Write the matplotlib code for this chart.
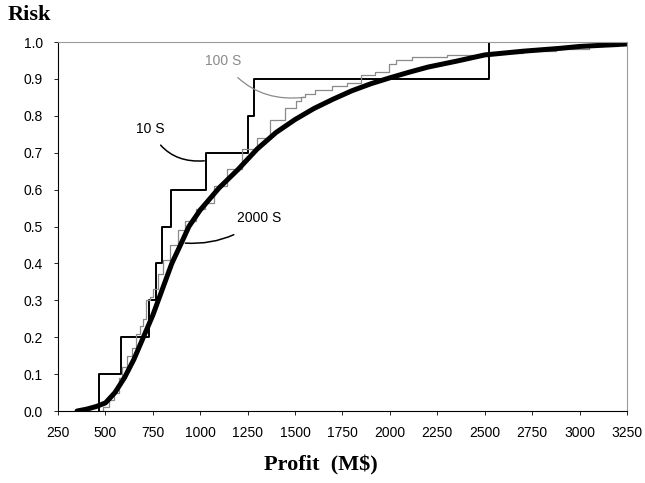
""" Risk curves for 10, 100 and 2000 simulations
"""

import numpy as np
import matplotlib.pyplot as plt

# 10 simulations: sorted profits, each step adds 0.1
x10 = [468, 581, 731, 766, 800, 845, 1028, 1252, 1285, 2522]
p10 = [0.1, 0.2, 0.3, 0.4, 0.5, 0.6, 0.7, 0.8, 0.9, 1.0]

# 100 simulations: step breakpoints
x100 = [470, 505, 535, 560, 578, 600, 625, 650, 672, 690, 705, 725, 745,
        760, 790, 820, 860, 900, 940, 1010, 1044, 1100, 1180, 1264, 1330,
        1405, 1493, 1520, 1546, 1563, 1651, 1739, 1810, 1880, 1968, 2021,
        2039, 2197, 2400, 2600, 2800, 2950, 3150, 3260]
p100 = [0.0, 0.01, 0.03, 0.05, 0.09, 0.12, 0.15, 0.17, 0.21, 0.23, 0.25,
        0.30, 0.31, 0.33, 0.37, 0.41, 0.45, 0.49, 0.515, 0.548, 0.565, 0.61,
        0.655, 0.71, 0.74, 0.79, 0.82, 0.84, 0.85, 0.86, 0.87, 0.88, 0.89,
        0.91, 0.92, 0.94, 0.95, 0.96, 0.965, 0.97, 0.975, 0.98, 0.99, 1.0]

# 2000 simulations: nearly smooth curve
x2000 = [350, 400, 450, 500, 550, 600, 650, 700, 750, 800, 850, 900, 940,
         1000, 1100, 1200, 1300, 1400, 1500, 1600, 1700, 1800, 1900, 2000,
         2100, 2200, 2350, 2500, 2700, 2900, 3000, 3260]
p2000 = [0.0, 0.005, 0.012, 0.022, 0.05, 0.09, 0.14, 0.20, 0.26, 0.33,
         0.40, 0.455, 0.50, 0.545, 0.605, 0.655, 0.71, 0.755, 0.79, 0.82,
         0.845, 0.868, 0.887, 0.903, 0.918, 0.932, 0.948, 0.965, 0.975,
         0.983, 0.988, 0.995]

xticks = np.arange(250, 3251, 250)
yticks = np.arange(0, 1.01, 0.1)

plt.rcParams['font.family'] = ['Liberation Sans', 'DejaVu Sans']
fig = plt.figure(figsize=(6.45, 4.83), dpi=100)
ax = fig.add_axes([0.09, 0.149, 0.882, 0.764])

ax.step([x10[0]] + x10, [0.0] + p10, where='post', color='black', lw=1.4)
ax.step(x100, p100, where='mid', color='#8a8a8a', lw=0.9)
ax.plot(x2000, p2000, color='black', lw=3.6, solid_capstyle='round')

ax.set_xlim(250, 3250)
ax.set_ylim(0, 1.0)
ax.set_xticks(xticks)
ax.set_yticks(yticks)
ax.set_yticklabels(['%.1f' % v for v in yticks])
ax.tick_params(length=3, width=0.6, pad=8, labelsize=10)
for side in ['top', 'right']:
    ax.spines[side].set_color('#9a9a9a')
for side in ['left', 'bottom']:
    ax.spines[side].set_linewidth(0.8)

ax.annotate('10 S', xy=(1021, 0.678), xytext=(736, 0.765),
            fontsize=10, ha='center', va='center',
            arrowprops=dict(arrowstyle='-', color='black', lw=1.1,
                            shrinkA=6, shrinkB=0,
                            connectionstyle='arc3,rad=0.35'))
ax.annotate('100 S', xy=(1546, 0.85), xytext=(1122, 0.949),
            fontsize=10, ha='center', va='center', color='#8a8a8a',
            arrowprops=dict(arrowstyle='-', color='#8a8a8a', lw=0.9,
                            shrinkA=7, shrinkB=0,
                            connectionstyle='arc3,rad=0.3'))
ax.annotate('2000 S', xy=(921, 0.455), xytext=(1312, 0.522),
            fontsize=10, ha='center', va='center',
            arrowprops=dict(arrowstyle='-', color='black', lw=1.1,
                            shrinkA=10, shrinkB=0,
                            connectionstyle='arc3,rad=-0.2'))

fig.text(0.012, 0.99, 'Risk', fontsize=16, fontweight='bold',
         family='Liberation Serif', va='top', ha='left')
fig.text(0.497, 0.037, 'Profit  (M$)', fontsize=16, fontweight='bold',
         family='Liberation Serif', va='center', ha='center')

fig.savefig('out.png', dpi=100)
